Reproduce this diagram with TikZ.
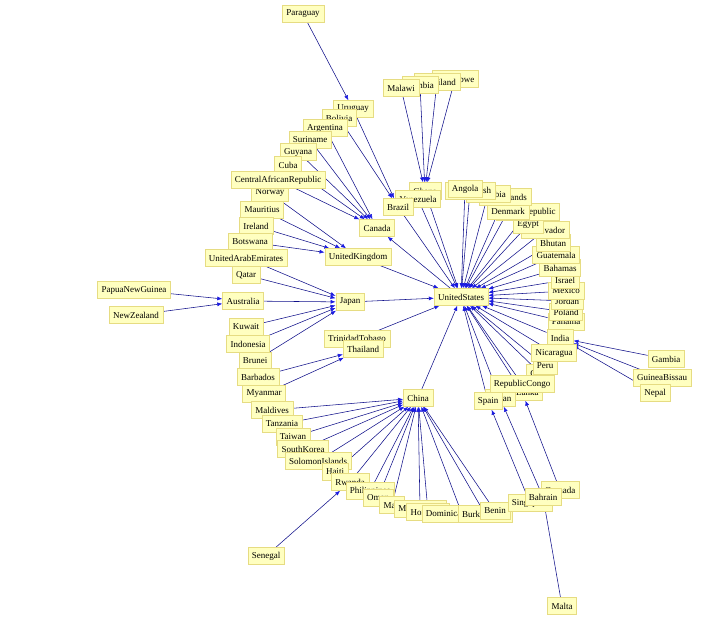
\documentclass[tikz,border=0pt]{standalone}
\usepackage{fontspec}
\setmainfont{Liberation Serif}
\usetikzlibrary{arrows.meta}
\pgfdeclarelayer{bg}
\pgfsetlayers{bg,main}
\definecolor{nfill}{HTML}{FFFFC0}
\definecolor{ndraw}{HTML}{E6DC82}
\definecolor{edge}{HTML}{10108A}
\definecolor{tip}{HTML}{1A1AE0}
\begin{document}
\begin{tikzpicture}[x=1pt,y=-1pt,
  n/.style={draw=ndraw,fill=nfill,font=\fontsize{9}{10}\selectfont,inner xsep=4pt,inner ysep=3pt,minimum height=17pt},
  e/.style={draw=edge,line width=0.55pt,-{Latex[length=5pt,width=4pt,color=tip]}}]
\useasboundingbox (0,0) rectangle (712,620);
\node[n] (Paraguay) at (303,14) {Paraguay};
\node[n] (Zimbabwe) at (455,79) {Zimbabwe};
\node[n] (Swaziland) at (437,82) {Swaziland};
\node[n] (Zambia) at (420,85) {Zambia};
\node[n] (Malawi) at (401,88) {Malawi};
\node[n] (Uruguay) at (353,109) {Uruguay};
\node[n] (Bolivia) at (339,118) {Bolivia};
\node[n] (Argentina) at (325,128) {Argentina};
\node[n] (Suriname) at (310,140) {Suriname};
\node[n] (Guyana) at (298,152) {Guyana};
\node[n] (Cuba) at (288,165) {Cuba};
\node[n] (Norway) at (270,193) {Norway};
\node[n] (CAR) at (278,180) {CentralAfricanRepublic};
\node[n] (Mauritius) at (262,210) {Mauritius};
\node[n] (Ireland) at (256,226) {Ireland};
\node[n] (Botswana) at (250,242) {Botswana};
\node[n] (Qatar) at (246,275) {Qatar};
\node[n] (UAE) at (246,258) {UnitedArabEmirates};
\node[n] (PNG) at (134,290) {PapuaNewGuinea};
\node[n] (NewZealand) at (136,315) {NewZealand};
\node[n] (Australia) at (243,301) {Australia};
\node[n] (Kuwait) at (246,327) {Kuwait};
\node[n] (Indonesia) at (248,344) {Indonesia};
\node[n] (Brunei) at (255,361) {Brunei};
\node[n] (Barbados) at (258,377) {Barbados};
\node[n] (Myanmar) at (264,394) {Myanmar};
\node[n] (Maldives) at (272,410) {Maldives};
\node[n] (Tanzania) at (282,424) {Tanzania};
\node[n] (Taiwan) at (293,437) {Taiwan};
\node[n] (SouthKorea) at (303,449) {SouthKorea};
\node[n] (Solomon) at (318,461) {SolomonIslands};
\node[n] (Haiti) at (335,472) {Haiti};
\node[n] (Rwanda) at (350,482) {Rwanda};
\node[n] (Philippines) at (370,491) {Philippines};
\node[n] (Oman) at (378,498) {Oman};
\node[n] (Mali) at (392,505) {Mali};
\node[n] (Madagascar) at (420,509) {Madagascar};
\node[n] (Honduras) at (428,512) {Honduras};
\node[n] (Dominican) at (462,514) {DominicanRepublic};
\node[n] (Burkina) at (485,514) {BurkinaFaso};
\node[n] (Benin) at (495,511) {Benin};
\node[n] (Grenada) at (560,490) {Grenada};
\node[n] (Singapore) at (530,503) {Singapore};
\node[n] (Bahrain) at (543,497) {Bahrain};
\node[n] (Senegal) at (266,556) {Senegal};
\node[n] (Malta) at (562,606) {Malta};
\node[n] (Gambia) at (666,359) {Gambia};
\node[n] (GuineaBissau) at (662,378) {GuineaBissau};
\node[n] (Nepal) at (655,393) {Nepal};
\node[n] (Panama) at (566,322) {Panama};
\node[n] (Poland) at (566,312) {Poland};
\node[n] (Jordan) at (567,301) {Jordan};
\node[n] (Mexico) at (566,291) {Mexico};
\node[n] (Israel) at (565,280) {Israel};
\node[n] (Bahamas) at (560,268) {Bahamas};
\node[n] (Guatemala) at (556,255) {Guatemala};
\node[n] (Bhutan) at (553,243) {Bhutan};
\node[n] (ElSalvador) at (545,230) {ElSalvador};
\node[n] (Egypt) at (528,225) {Egypt};
\node[n] (CzechRepublic) at (528,212) {CzechRepublic};
\node[n] (Denmark) at (508,211) {Denmark};
\node[n] (Netherlands) at (505,197) {Netherlands};
\node[n] (Colombia) at (488,194) {Colombia};
\node[n] (Bangladesh) at (470,191) {Bangladesh};
\node[n] (SriLanka) at (522,392) {SriLanka};
\node[n] (Sudan) at (500,398) {Sudan};
\node[n] (Spain) at (488,401) {Spain};
\node[n] (Chile) at (540,373) {Chile};
\node[n] (Peru) at (545,366) {Peru};
\node[n] (RepCongo) at (522,384) {RepublicCongo};
\node[n] (India) at (560,338) {India};
\node[n] (Nicaragua) at (554,353) {Nicaragua};
\node[n] (Ghana) at (425,191) {Ghana};
\node[n] (Venezuela) at (418,199) {Venezuela};
\node[n] (Brazil) at (398,207) {Brazil};
\node[n] (Angola) at (465,189) {Angola};
\node[n] (Canada) at (377,228) {Canada};
\node[n] (UnitedKingdom) at (358,257) {UnitedKingdom};
\node[n] (UnitedStates) at (461,297) {UnitedStates};
\node[n] (Japan) at (350,302) {Japan};
\node[n] (TrinidadTobago) at (357,339) {TrinidadTobago};
\node[n] (Thailand) at (363,349) {Thailand};
\node[n] (China) at (418,398) {China};
\begin{pgfonlayer}{bg}
\draw[e] (Paraguay) -- (Uruguay);
\foreach \s in {Malawi,Zambia,Swaziland,Zimbabwe} \draw[e] (\s) -- (Ghana);
\foreach \s in {Uruguay,Bolivia} \draw[e] (\s) -- (Brazil);
\foreach \s in {Argentina,Suriname,Guyana,Cuba,CAR} \draw[e] (\s) -- (Canada);
\foreach \s in {Norway,Mauritius,Ireland,Botswana} \draw[e] (\s) -- (UnitedKingdom);
\foreach \s in {UAE,Qatar,Australia,Kuwait,Indonesia,Brunei} \draw[e] (\s) -- (Japan);
\foreach \s in {PNG,NewZealand} \draw[e] (\s) -- (Australia);
\foreach \s in {Barbados,Myanmar} \draw[e] (\s) -- (Thailand);
\foreach \s in {Maldives,Tanzania,Taiwan,SouthKorea,Solomon,Haiti,Rwanda,Philippines,Oman,Mali,Madagascar,Honduras,Dominican,Burkina,Benin} \draw[e] (\s) -- (China);
\draw[e] (Senegal) -- (Rwanda);
\draw[e] (Malta) -- (Bahrain);
\draw[e] (Singapore) -- (Spain);
\draw[e] (Bahrain) -- (Sudan);
\draw[e] (Grenada) -- (SriLanka);
\foreach \s in {Gambia,GuineaBissau,Nepal} \draw[e] (\s) -- (India);
\draw[e] (UnitedStates) -- (Canada);
\foreach \s in {China,Japan,TrinidadTobago,UnitedKingdom,Brazil,Venezuela,Ghana,Angola,Bangladesh,Colombia,Netherlands,Denmark,CzechRepublic,Egypt,ElSalvador,Bhutan,Guatemala,Bahamas,Israel,Mexico,Jordan,Poland,Panama,India,Nicaragua,Peru,Chile,RepCongo,Spain,Sudan,SriLanka} \draw[e] (\s) -- (UnitedStates);
\end{pgfonlayer}
\end{tikzpicture}
\end{document}
